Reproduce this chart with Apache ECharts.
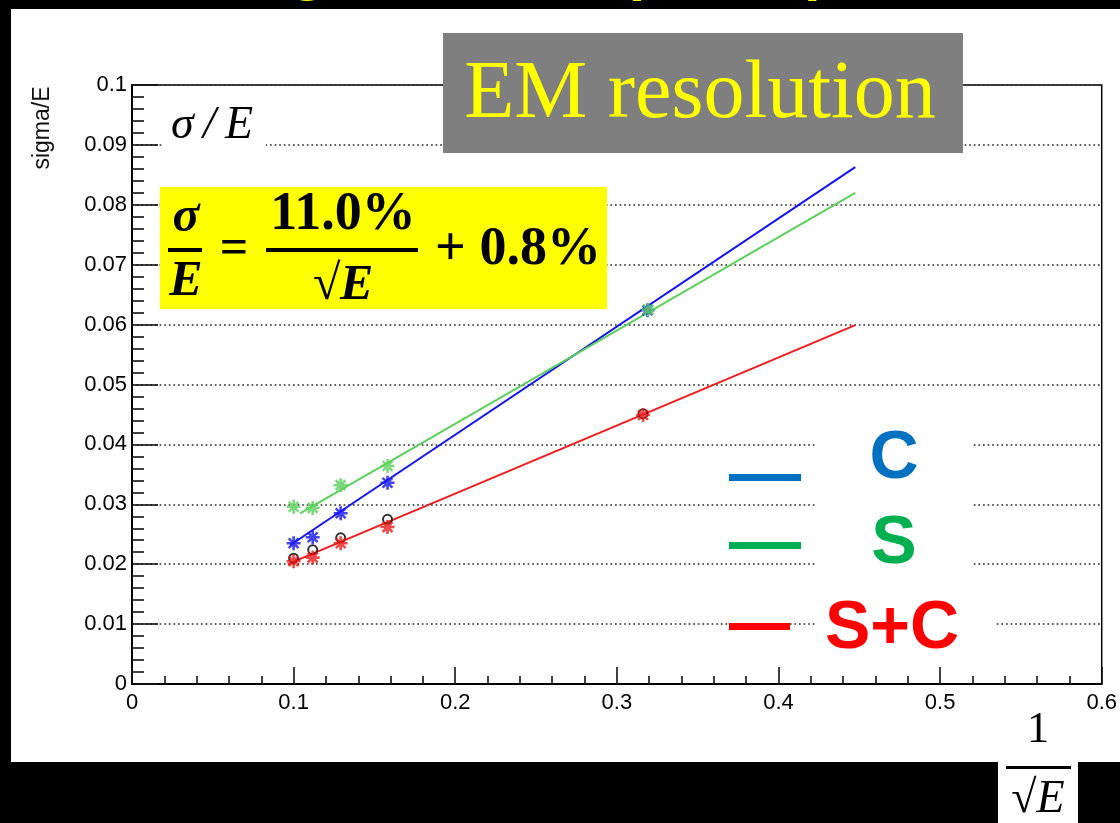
<!DOCTYPE html>
<html><head><meta charset="utf-8">
<script src="https://cdn.jsdelivr.net/npm/echarts@6/dist/echarts.min.js"></script>
<style>html,body{margin:0;padding:0;background:#000;}#c{width:1120px;height:823px;}</style>
</head><body><div id="c"></div>
<script>
// ---- data ----
const xC  = [0.1, 0.1118, 0.1291, 0.1581, 0.319];
const yC  = [0.0235, 0.0245, 0.0285, 0.0336, 0.0624];
const xS  = [0.1, 0.1118, 0.1291, 0.1581, 0.3195];
const yS  = [0.0296, 0.0294, 0.0332, 0.0364, 0.0625];
const xSC = [0.1, 0.1118, 0.1291, 0.1581, 0.3162];
const ySC = [0.0205, 0.0211, 0.0235, 0.0262, 0.0449];
const yRef = [0.0210, 0.0224, 0.0244, 0.0275, 0.0451]; // open black circles at xSC
const fitXC  = [0.098, 0.4475],  fitYC  = [0.0232, 0.0863];
const fitXS  = [0.104, 0.4475],  fitYS  = [0.0285, 0.0820];
const fitXSC = [0.0964, 0.4475], fitYSC = [0.0200, 0.0599];
const legendNames = ['C', 'S', 'S+C'];
const xMin = 0, xMax = 0.6, xStep = 0.1;
const yMin = 0, yMax = 0.1, yStep = 0.01;

const zip = (xs, ys) => xs.map((x, i) => [x, ys[i]]);
const ASTER = 'path://M5 0L5 10M0 5L10 5M1.5 1.5L8.5 8.5M8.5 1.5L1.5 8.5';
const cBlue = '#1414ee', cGreen = '#5ccf5c', cRed = '#ee1c1c';
const SANS = '"Liberation Sans", Arial, sans-serif';
const SERIF = '"Liberation Serif", "Times New Roman", serif';

function aster(name, data, color) {
  return { type: 'scatter', name, data, symbol: ASTER, symbolSize: 14, z: 4,
    itemStyle: { color: color, borderColor: color, borderWidth: 2.6 } };
}
function fit(name, xs, ys, color) {
  return { type: 'line', name, data: zip(xs, ys), symbol: 'none', z: 3,
    lineStyle: { color, width: 2 }, animation: false };
}

const chart = echarts.init(document.getElementById('c'), null, { width: 1120, height: 823 });
const G = 5;
chart.setOption({
  animation: false,
  backgroundColor: '#000',
  grid: { left: 132, right: 16, top: 85, bottom: 139, show: true, borderColor: '#000', borderWidth: 1.5, backgroundColor: 'rgba(0,0,0,0)', containLabel: false },
  xAxis: {
    type: 'value', min: xMin, max: xMax, interval: xStep,
    axisLine: { lineStyle: { color: '#000', width: 2 } },
    axisTick: { inside: true, length: 17, lineStyle: { color: '#111', width: 1.6 } },
    minorTick: { show: true, splitNumber: 5, length: 8, lineStyle: { color: '#111', width: 1.6 } },
    axisLabel: { fontFamily: SANS, fontSize: 22, color: '#000', margin: 8,
      formatter: v => String(+v.toFixed(2)) },
    splitLine: { show: false }
  },
  yAxis: {
    type: 'value', min: yMin, max: yMax, interval: yStep,
    axisLine: { lineStyle: { color: '#000', width: 2 } },
    axisTick: { inside: true, length: 26, lineStyle: { color: '#111', width: 1.6 } },
    minorTick: { show: true, splitNumber: 5, length: 12, lineStyle: { color: '#111', width: 1.6 } },
    axisLabel: { fontFamily: SANS, fontSize: 22, color: '#000', margin: 5,
      formatter: v => String(+v.toFixed(3)) },
    splitLine: { show: true, lineStyle: { color: '#2a2a2a', width: 1.7, type: [1.7, 2.9] } }
  },
  series: [
    fit('C fit', fitXC, fitYC, cBlue),
    fit('S fit', fitXS, fitYS, cGreen),
    fit('S+C fit', fitXSC, fitYSC, cRed),
    { type: 'scatter', name: 'ref', data: zip(xSC, yRef), symbol: 'circle', symbolSize: 9, z: 3,
      itemStyle: { color: 'rgba(0,0,0,0)', borderColor: '#000', borderWidth: 2 } },
    aster(legendNames[0], zip(xC, yC), cBlue),
    aster(legendNames[1], zip(xS, yS), cGreen),
    aster(legendNames[2], zip(xSC, ySC), cRed)
  ],
  graphic: [
    // white page area
    { type: 'rect', z: -10, shape: { x: 11, y: 9, width: 1109, height: 753 }, style: { fill: '#fff' } },
    { type: 'rect', z: -10, shape: { x: 998, y: 760, width: 80, height: 63 }, style: { fill: '#fff' } },
    // clipped yellow title fragments at top
    { type: 'text', z: G, left: 290, top: -56, style: { text: 'g', font: 'bold 58px ' + SANS, fill: '#ffff00' } },
    { type: 'text', z: G, left: 622, top: -56, style: { text: '(', font: 'bold 58px ' + SANS, fill: '#ffff00' } },
    { type: 'text', z: G, left: 808, top: -56, style: { text: ')', font: 'bold 58px ' + SANS, fill: '#ffff00' } },
    // y axis title
    { type: 'text', z: G, x: 43, y: 128, rotation: Math.PI / 2,
      style: { text: 'sigma/E', font: '23px ' + SANS, fill: '#111', textAlign: 'center', textVerticalAlign: 'middle' } },
    // sigma/E label with white box
    { type: 'rect', z: G, shape: { x: 163, y: 98, width: 103, height: 62 }, style: { fill: '#fff' } },
    { type: 'text', z: G, x: 212, y: 126, style: { text: 'σ\u2009/\u2009E', font: 'italic 46px ' + SERIF, fill: '#000', textAlign: 'center', textVerticalAlign: 'middle' } },
    // title box
    { type: 'rect', z: G, shape: { x: 443, y: 33, width: 520, height: 120 }, style: { fill: '#7f7f7f' } },
    { type: 'text', z: G, x: 700, y: 95, style: { text: 'EM resolution', font: '82px ' + SERIF, fill: '#ffff00', textAlign: 'center', textVerticalAlign: 'middle' } },
    // formula box
    { type: 'rect', z: G, shape: { x: 160, y: 187, width: 447, height: 122 }, style: { fill: '#ffff00' } },
    { type: 'text', z: G, x: 186, y: 218, style: { text: 'σ', font: 'italic bold 50px ' + SERIF, fill: '#000', textAlign: 'center', textVerticalAlign: 'middle' } },
    { type: 'rect', z: G, shape: { x: 168, y: 248, width: 34, height: 4 }, style: { fill: '#000' } },
    { type: 'text', z: G, x: 186, y: 282, style: { text: 'E', font: 'italic bold 50px ' + SERIF, fill: '#000', textAlign: 'center', textVerticalAlign: 'middle' } },
    { type: 'text', z: G, x: 234, y: 250, style: { text: '=', font: 'bold 50px ' + SERIF, fill: '#000', textAlign: 'center', textVerticalAlign: 'middle' } },
    { type: 'text', z: G, x: 343, y: 215, style: { text: '11.0%', font: 'bold 54px ' + SERIF, fill: '#000', textAlign: 'center', textVerticalAlign: 'middle' } },
    { type: 'rect', z: G, shape: { x: 266, y: 248, width: 152, height: 4 }, style: { fill: '#000' } },
    { type: 'text', z: G, x: 343, y: 286, style: { text: '√E', font: 'italic bold 50px ' + SERIF, fill: '#000', textAlign: 'center', textVerticalAlign: 'middle' } },
    { type: 'text', z: G, x: 518, y: 250, style: { text: '+ 0.8%', font: 'bold 54px ' + SERIF, fill: '#000', textAlign: 'center', textVerticalAlign: 'middle' } },
    // legend
    { type: 'rect', z: G, shape: { x: 815, y: 430, width: 158, height: 170 }, style: { fill: '#fff' } },
    { type: 'rect', z: G, shape: { x: 815, y: 600, width: 179, height: 60 }, style: { fill: '#fff' } },
    { type: 'rect', z: G, shape: { x: 729, y: 474, width: 72, height: 7 }, style: { fill: '#0070c0' } },
    { type: 'rect', z: G, shape: { x: 729, y: 542, width: 72, height: 7 }, style: { fill: '#00b050' } },
    { type: 'rect', z: G, shape: { x: 729, y: 623, width: 61, height: 7 }, style: { fill: '#ff0000' } },
    { type: 'text', z: G, x: 894, y: 459, style: { text: legendNames[0], font: 'bold 68px ' + SANS, fill: '#0070c0', textAlign: 'center', textVerticalAlign: 'middle' } },
    { type: 'text', z: G, x: 894, y: 544, style: { text: legendNames[1], font: 'bold 68px ' + SANS, fill: '#00b050', textAlign: 'center', textVerticalAlign: 'middle' } },
    { type: 'text', z: G, x: 892, y: 629, style: { text: legendNames[2], font: 'bold 68px ' + SANS, fill: '#ff0000', textAlign: 'center', textVerticalAlign: 'middle' } },
    // x axis title 1/sqrt(E)
    { type: 'text', z: G, x: 1038, y: 730, style: { text: '1', font: '44px ' + SERIF, fill: '#000', textAlign: 'center', textVerticalAlign: 'middle' } },
    { type: 'rect', z: G, shape: { x: 1006, y: 766, width: 65, height: 3 }, style: { fill: '#000' } },
    { type: 'text', z: G, x: 1038, y: 800, style: { text: '√E', font: 'italic 46px ' + SERIF, fill: '#000', textAlign: 'center', textVerticalAlign: 'middle' } }
  ]
});
</script></body></html>
